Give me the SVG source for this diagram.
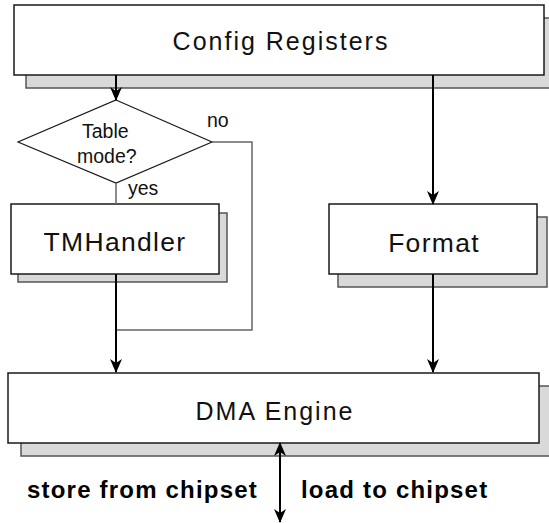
<svg xmlns="http://www.w3.org/2000/svg" width="549" height="523" viewBox="0 0 549 523">
<style>
.box{fill:#fff;stroke:#1a1a1a;stroke-width:1.5}
.shadow{fill:#d9d9d9;stroke:#555;stroke-width:1.5}
.lbl{font-family:"Liberation Sans",Arial,sans-serif;fill:#111;text-anchor:middle}
.spaced{font-size:25px;letter-spacing:2px}
.big{font-size:26.5px;letter-spacing:1.3px}
.small{font-family:"Liberation Sans",Arial,sans-serif;font-size:19.5px;fill:#111}
.bold{font-family:"Liberation Sans",Arial,sans-serif;font-size:24px;font-weight:bold;letter-spacing:1.2px;fill:#000}
.arrow{stroke:#000;stroke-width:2;fill:none}
.thin{stroke:#666;stroke-width:1.5;fill:none}
</style>
<defs>
<marker id="ah" viewBox="0 0 14 14" refX="13" refY="7" markerWidth="14" markerHeight="14" markerUnits="userSpaceOnUse" orient="auto-start-reverse">
<path d="M0,1 L14,7 L0,13 L4,7 Z" fill="#000"/>
</marker>
</defs>
<g id="config">
<rect class="shadow" x="26" y="18" width="530" height="70"/>
<rect class="box" x="14" y="5" width="530" height="70"/>
<text class="lbl spaced" x="281" y="50">Config Registers</text>
</g>
<g id="decision">
<polygon points="116,100 212,142 116,183 18,142" fill="#fff" stroke="#1a1a1a" stroke-width="1.2"/>
<text class="small" x="82" y="138">Table</text>
<text class="small" x="77" y="163">mode?</text>
</g>
<g id="tmhandler">
<rect class="shadow" x="18" y="213" width="209" height="69"/>
<rect class="box" x="11" y="204" width="208" height="70"/>
<text class="lbl big" x="115" y="251">TMHandler</text>
</g>
<g id="format">
<rect class="shadow" x="338" y="217" width="209" height="70"/>
<rect class="box" x="329" y="204" width="208" height="70"/>
<text class="lbl big" x="434" y="252">Format</text>
</g>
<g id="dma">
<rect class="shadow" x="21" y="386" width="540" height="70"/>
<rect class="box" x="8" y="373" width="531" height="70"/>
<text class="lbl spaced" x="275" y="420">DMA Engine</text>
</g>
<g id="connectors">
<line class="arrow" x1="116" y1="75" x2="116" y2="100" marker-end="url(#ah)"/>
<line class="arrow" x1="433" y1="75" x2="433" y2="204" marker-end="url(#ah)"/>
<line class="arrow" x1="433" y1="274" x2="433" y2="372" marker-end="url(#ah)"/>
<line class="thin" x1="116" y1="183" x2="116" y2="204"/>
<polyline class="thin" points="212,142 252,142 252,330 116,330"/>
<line class="arrow" x1="116" y1="274" x2="116" y2="372" marker-end="url(#ah)"/>
<line class="arrow" x1="280" y1="443" x2="280" y2="522" marker-start="url(#ah)" marker-end="url(#ah)"/>
</g>
<g id="labels">
<text class="small" x="207" y="127">no</text>
<text class="small" x="128" y="195">yes</text>
<text class="bold" x="258" y="498" text-anchor="end">store from chipset</text>
<text class="bold" x="301" y="498">load to chipset</text>
</g>
</svg>
